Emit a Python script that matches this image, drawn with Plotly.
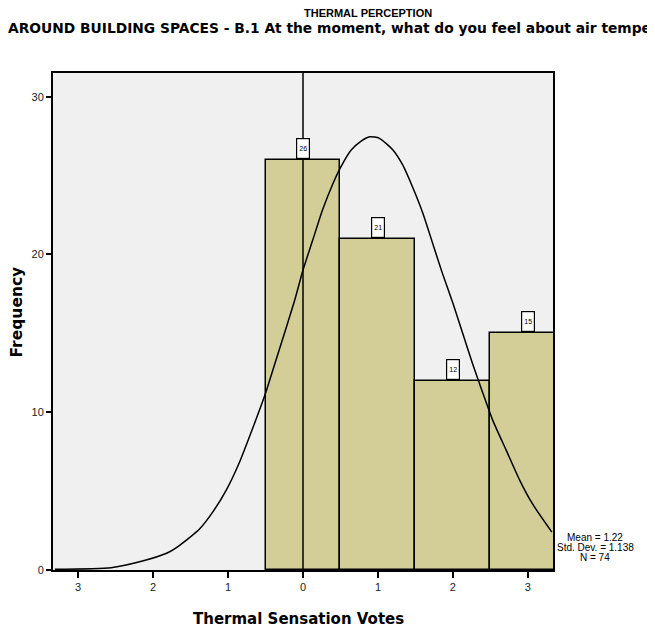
import plotly.graph_objects as go

# ---- data ----
categories = [0, 1, 2, 3]
frequencies = [26, 21, 12, 15]

curve_x = [-3.31, -2.56, -2.18, -1.82, -1.65, -1.38, -1.20, -1.02, -0.85, -0.67, -0.50,
           -0.36, -0.22, -0.11, 0.00, 0.13, 0.26, 0.40, 0.50, 0.64, 0.78, 0.89, 1.02,
           1.20, 1.33, 1.46, 1.60, 1.73, 1.86, 2.00, 2.13, 2.26, 2.40, 2.53, 2.71,
           2.89, 3.06, 3.32]
curve_y = [0.05, 0.15, 0.52, 1.06, 1.55, 2.6, 3.7, 5.1, 6.8, 9.0, 11.2,
           13.31, 15.42, 17.11, 19.01, 20.91, 22.81, 24.5, 25.5, 26.6, 27.2, 27.46, 27.36,
           26.62, 25.67, 24.29, 22.6, 20.7, 18.8, 16.9, 15.0, 13.1, 11.2, 9.5, 7.6,
           5.7, 4.2, 2.4]

x_tick_vals = [-3, -2, -1, 0, 1, 2, 3]
x_tick_labels = ["3", "2", "1", "0", "1", "2", "3"]
y_tick_vals = [0, 10, 20, 30]
y_tick_labels = ["0", "10", "20", "30"]

title_line1 = "THERMAL PERCEPTION"
title_line2 = "AROUND BUILDING SPACES - B.1 At the moment, what do you feel about air tempe"
x_title = "Thermal Sensation Votes"
y_title = "Frequency"
stats_lines = ["Mean = 1.22", "Std. Dev. = 1.138", "N = 74"]

OFF = 8  # page body margin
W, H = 647, 624
L, R, T, B = 45, 102, 65, 62
FONT = "Liberation Sans, Arial, sans-serif"
WIDE = "DejaVu Sans, Verdana, sans-serif"

def px_x(p):  # page pixel -> paper
    return (p - OFF - L) / (W - L - R)

def px_y(p):
    return 1 - (p - OFF - T) / (H - T - B)

fig = go.Figure()
fig.add_trace(go.Bar(
    x=categories, y=frequencies, width=1,
    marker=dict(color="#D3CE98", line=dict(color="black", width=1.5)),
    hoverinfo="x+y", showlegend=False,
))
fig.add_trace(go.Scatter(
    x=curve_x, y=curve_y, mode="lines", line=dict(color="black", width=1.5, shape="spline", smoothing=0.6),
    showlegend=False, hoverinfo="skip",
))

fig.add_shape(type="line", xref="x", yref="paper", x0=0, x1=0, y0=0, y1=1,
              line=dict(color="black", width=1.5))

annotations = []
for c, f in zip(categories, frequencies):
    annotations.append(dict(
        x=c, y=f, xref="x", yref="y", text=str(f), showarrow=False,
        yanchor="bottom", yshift=1, width=10, height=17,
        font=dict(family=FONT, size=7, color="black"),
        bgcolor="white", bordercolor="black", borderwidth=1.2, borderpad=1,
    ))

annotations += [
    dict(x=px_x(368), y=px_y(13), xref="paper", yref="paper", text="<b>%s</b>" % title_line1,
         showarrow=False, xanchor="center", yanchor="middle",
         font=dict(family=FONT, size=11, color="black")),
    dict(x=px_x(6), y=px_y(28), xref="paper", yref="paper", text="<b>%s</b>" % title_line2,
         showarrow=False, xanchor="left", yanchor="middle",
         font=dict(family=WIDE, size=13.8, color="black")),
    dict(x=px_x(298), y=px_y(619), xref="paper", yref="paper", text="<b>%s</b>" % x_title,
         showarrow=False, xanchor="center", yanchor="middle",
         font=dict(family=WIDE, size=15, color="black")),
    dict(x=px_x(16.5), y=px_y(312), xref="paper", yref="paper", text="<b>%s</b>" % y_title,
         showarrow=False, xanchor="center", yanchor="middle", textangle=-90,
         font=dict(family=WIDE, size=15.5, color="black")),
]
for line, ypx in zip(stats_lines, [537, 547, 557]):
    annotations.append(dict(x=px_x(595), y=px_y(ypx), xref="paper", yref="paper", text=line,
                            showarrow=False, xanchor="center", yanchor="middle",
                            font=dict(family=FONT, size=10, color="black")))

fig.update_layout(
    width=W, height=H,
    margin=dict(l=L, r=R, t=T, b=B, pad=0),
    paper_bgcolor="white", plot_bgcolor="#F0F0F0",
    bargap=0, showlegend=False,
    annotations=annotations,
    xaxis=dict(range=[-3.335, 3.335], tickvals=x_tick_vals, ticktext=x_tick_labels,
               ticks="outside", ticklen=6, tickwidth=1.5, tickcolor="black",
               showline=True, linecolor="black", linewidth=2, mirror=True,
               showgrid=False, zeroline=False,
               tickfont=dict(family=FONT, size=11, color="#222")),
    yaxis=dict(range=[0, 31.5], tickvals=y_tick_vals, ticktext=y_tick_labels,
               ticks="outside", ticklen=5, tickwidth=1.5, tickcolor="black",
               showline=True, linecolor="black", linewidth=2, mirror=True,
               showgrid=False, zeroline=False,
               tickfont=dict(family=FONT, size=11, color="#222")),
)

fig.write_html("out.html")
